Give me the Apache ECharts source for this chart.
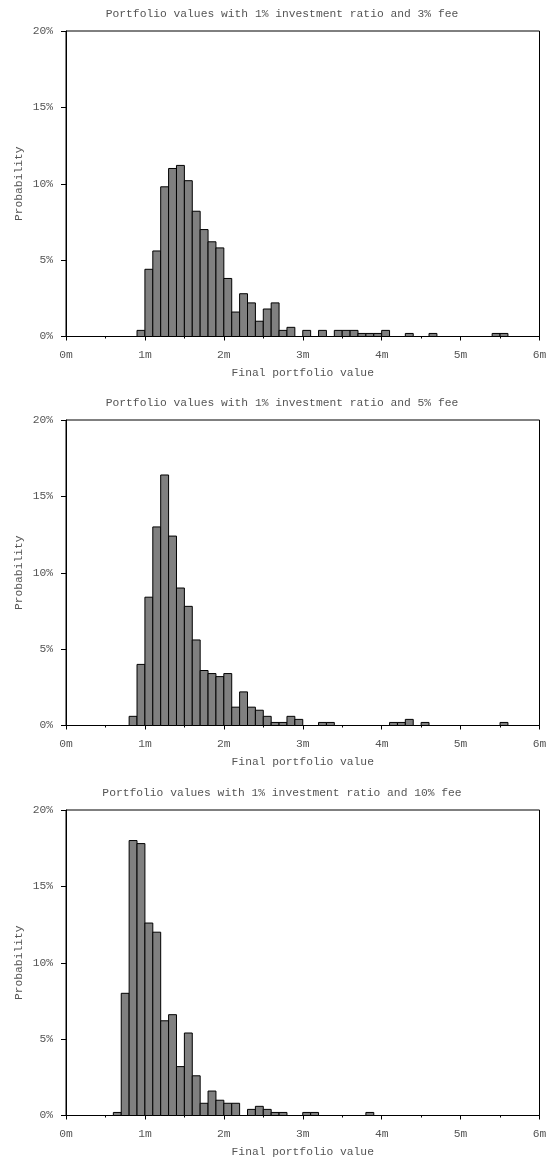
<!DOCTYPE html>
<html>
<head>
<meta charset="utf-8">
<title>Portfolio value distributions</title>
<script src="https://cdn.jsdelivr.net/npm/echarts@6/dist/echarts.min.js"></script>
<style>
  html, body { margin: 0; padding: 0; background: #fff; }
  #chart { width: 552px; height: 1159px; }
</style>
</head>
<body>
<div id="chart"></div>
<script>
// Histogram bins are 0.1m wide; each bin is given by its lower edge (in millions).
const BIN_WIDTH = 0.1;

const titles = [
  'Portfolio values with 1% investment ratio and 3% fee',
  'Portfolio values with 1% investment ratio and 5% fee',
  'Portfolio values with 1% investment ratio and 10% fee'
];

// 3% fee
const binsFee3 = [0.9, 1.0, 1.1, 1.2, 1.3, 1.4, 1.5, 1.6, 1.7, 1.8, 1.9, 2.0, 2.1, 2.2, 2.3, 2.4, 2.5, 2.6, 2.7, 2.8,
                  3.0, 3.2, 3.4, 3.5, 3.6, 3.7, 3.8, 3.9, 4.0, 4.3, 4.6, 5.4, 5.5];
const probFee3 = [0.4, 4.4, 5.6, 9.8, 11.0, 11.2, 10.2, 8.2, 7.0, 6.2, 5.8, 3.8, 1.6, 2.8, 2.2, 1.0, 1.8, 2.2, 0.4, 0.6,
                  0.4, 0.4, 0.4, 0.4, 0.4, 0.2, 0.2, 0.2, 0.4, 0.2, 0.2, 0.2, 0.2];

// 5% fee
const binsFee5 = [0.8, 0.9, 1.0, 1.1, 1.2, 1.3, 1.4, 1.5, 1.6, 1.7, 1.8, 1.9, 2.0, 2.1, 2.2, 2.3, 2.4, 2.5, 2.6, 2.7, 2.8, 2.9,
                  3.2, 3.3, 4.1, 4.2, 4.3, 4.5, 5.5];
const probFee5 = [0.6, 4.0, 8.4, 13.0, 16.4, 12.4, 9.0, 7.8, 5.6, 3.6, 3.4, 3.2, 3.4, 1.2, 2.2, 1.2, 1.0, 0.6, 0.2, 0.2, 0.6, 0.4,
                  0.2, 0.2, 0.2, 0.2, 0.4, 0.2, 0.2];

// 10% fee
const binsFee10 = [0.6, 0.7, 0.8, 0.9, 1.0, 1.1, 1.2, 1.3, 1.4, 1.5, 1.6, 1.7, 1.8, 1.9, 2.0, 2.1,
                   2.3, 2.4, 2.5, 2.6, 2.7, 3.0, 3.1, 3.8];
const probFee10 = [0.2, 8.0, 18.0, 17.8, 12.6, 12.0, 6.2, 6.6, 3.2, 5.4, 2.6, 0.8, 1.6, 1.0, 0.8, 0.8,
                   0.4, 0.6, 0.4, 0.2, 0.2, 0.2, 0.2, 0.2];

const xTicks = { min: 0, max: 6, interval: 1 };
const yTicks = { min: 0, max: 20, interval: 5 };

const panels = [
  { bins: binsFee3, prob: probFee3 },
  { bins: binsFee5, prob: probFee5 },
  { bins: binsFee10, prob: probFee10 }
];

const FONT = 'Liberation Mono';
const TEXT_COLOR = '#555';
const PANEL_TOP = [31, 420, 810];
const PLOT_HEIGHT = 305.5;

function renderBin(params, api) {
  const lo = api.value(0);
  const hi = api.value(1);
  const p = api.value(2);
  const topLeft = api.coord([lo, p]);
  const bottomRight = api.coord([hi, 0]);
  return {
    type: 'rect',
    shape: {
      x: topLeft[0],
      y: topLeft[1],
      width: bottomRight[0] - topLeft[0],
      height: bottomRight[1] - topLeft[1]
    },
    style: { fill: '#808080', stroke: '#000', lineWidth: 1 }
  };
}

const option = {
  backgroundColor: '#fff',
  animation: false,
  title: titles.map((t, i) => ({
    text: t,
    left: 277,
    top: PANEL_TOP[i] - 27,
    textAlign: 'center',
    textStyle: { fontFamily: FONT, fontSize: 11.3, fontWeight: 'normal', color: TEXT_COLOR }
  })),
  grid: PANEL_TOP.map(top => ({
    left: 66,
    right: 12.5,
    top: top,
    height: PLOT_HEIGHT,
    show: true,
    borderColor: '#000',
    borderWidth: 1,
    backgroundColor: 'transparent'
  })),
  xAxis: panels.map((_, i) => ({
    type: 'value',
    gridIndex: i,
    min: xTicks.min,
    max: xTicks.max,
    interval: xTicks.interval,
    name: 'Final portfolio value',
    nameLocation: 'middle',
    nameGap: 31.5,
    nameTextStyle: { fontFamily: FONT, fontSize: 11.3, color: TEXT_COLOR },
    axisLine: { show: true, onZero: false, lineStyle: { color: '#000', width: 1 } },
    axisTick: { show: true, inside: false, length: 4, lineStyle: { color: '#000' } },
    minorTick: { show: true, splitNumber: 2, length: 2, lineStyle: { color: '#000' } },
    splitLine: { show: false },
    axisLabel: {
      fontFamily: FONT, fontSize: 11.3, color: TEXT_COLOR, margin: 13.5,
      formatter: v => v + 'm'
    }
  })),
  yAxis: panels.map((_, i) => ({
    type: 'value',
    gridIndex: i,
    min: yTicks.min,
    max: yTicks.max,
    interval: yTicks.interval,
    name: 'Probability',
    nameLocation: 'middle',
    nameGap: 41,
    nameMoveOverlap: false,
    nameTextStyle: { fontFamily: FONT, fontSize: 11.3, color: TEXT_COLOR },
    axisLine: { show: true, lineStyle: { color: '#000', width: 1 } },
    axisTick: { show: true, inside: false, length: 5, lineStyle: { color: '#000' } },
    splitLine: { show: false },
    axisLabel: {
      fontFamily: FONT, fontSize: 11.3, color: TEXT_COLOR, margin: 13,
      formatter: v => v + '%'
    }
  })),
  series: panels.map((panel, i) => ({
    type: 'custom',
    xAxisIndex: i,
    yAxisIndex: i,
    renderItem: renderBin,
    encode: { x: [0, 1], y: 2 },
    data: panel.bins.map((lo, k) => [lo, lo + BIN_WIDTH, panel.prob[k]])
  }))
};

const chart = echarts.init(document.getElementById('chart'), null, { renderer: 'canvas' });
chart.setOption(option);
</script>
</body>
</html>
